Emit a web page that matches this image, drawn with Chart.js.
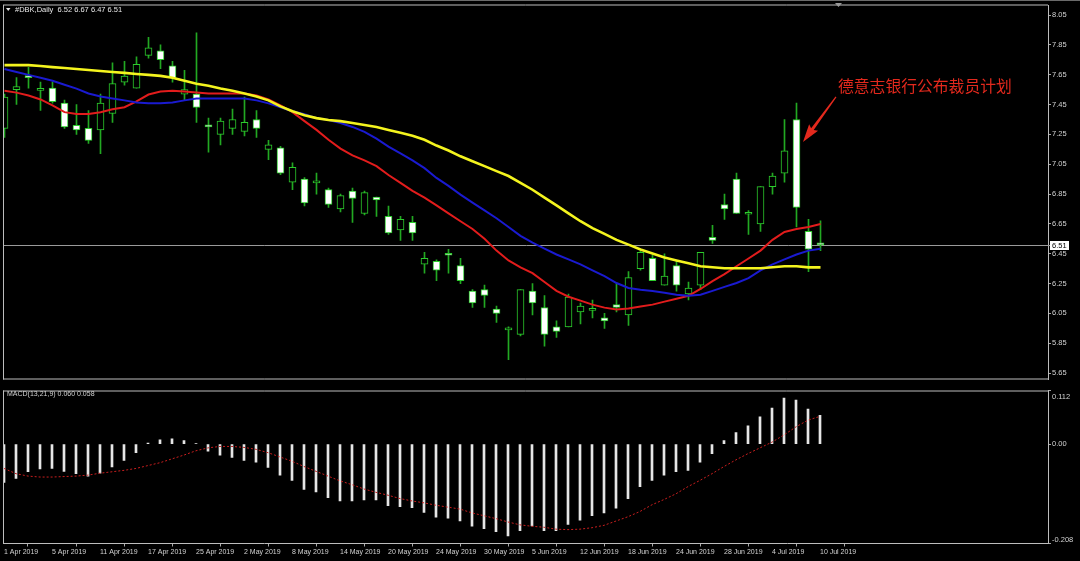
<!DOCTYPE html>
<html><head><meta charset="utf-8">
<script src="https://cdn.jsdelivr.net/npm/chart.js@4.4.1/dist/chart.umd.min.js"></script>
<style>
html,body{margin:0;padding:0;background:#000;width:1080px;height:561px;overflow:hidden}
#wrap{position:relative;width:1080px;height:561px;background:#000}
#main{position:absolute;left:0;top:0}
#macd{position:absolute;left:0;top:385px}
</style></head><body>
<div id="wrap">
<canvas id="main" width="1080" height="385"></canvas>
<canvas id="macd" width="1080" height="176"></canvas>
</div>
<script>
// ---------- data ----------
const symbol = '#DBK,Daily';
const dates = ['1 Apr 2019','2 Apr 2019','3 Apr 2019','4 Apr 2019','5 Apr 2019','8 Apr 2019','9 Apr 2019','10 Apr 2019','11 Apr 2019','12 Apr 2019','15 Apr 2019','16 Apr 2019','17 Apr 2019','18 Apr 2019','23 Apr 2019','24 Apr 2019','25 Apr 2019','26 Apr 2019','29 Apr 2019','30 Apr 2019',
'2 May 2019','3 May 2019','6 May 2019','7 May 2019','8 May 2019','9 May 2019','10 May 2019','13 May 2019','14 May 2019','15 May 2019','16 May 2019','17 May 2019','20 May 2019','21 May 2019','22 May 2019','23 May 2019','24 May 2019','27 May 2019','28 May 2019','29 May 2019','30 May 2019','31 May 2019',
'3 Jun 2019','4 Jun 2019','5 Jun 2019','6 Jun 2019','7 Jun 2019','11 Jun 2019','12 Jun 2019','13 Jun 2019','14 Jun 2019','17 Jun 2019','18 Jun 2019','19 Jun 2019','20 Jun 2019','21 Jun 2019','24 Jun 2019','25 Jun 2019','26 Jun 2019','27 Jun 2019','28 Jun 2019',
'1 Jul 2019','2 Jul 2019','3 Jul 2019','4 Jul 2019','5 Jul 2019','8 Jul 2019','9 Jul 2019','10 Jul 2019'];
const open  = [7.29,7.55,7.64,7.545,7.56,7.46,7.31,7.29,7.28,7.39,7.60,7.56,7.78,7.81,7.71,7.52,7.52,7.31,7.25,7.29,
7.27,7.35,7.15,7.16,6.93,6.95,6.925,6.88,6.75,6.87,6.72,6.83,6.70,6.61,6.66,6.38,6.40,6.445,6.37,6.20,6.21,6.08,
5.94,5.91,6.20,6.09,5.96,5.96,6.06,6.07,6.02,6.11,6.04,6.35,6.42,6.24,6.37,6.18,6.24,
6.56,6.78,6.95,6.715,6.65,6.90,6.99,7.35,6.60,6.52];
const high  = [7.52,7.63,7.70,7.60,7.60,7.48,7.45,7.41,7.52,7.73,7.74,7.77,7.90,7.85,7.74,7.68,7.93,7.36,7.36,7.42,
7.50,7.41,7.21,7.17,7.06,6.96,6.99,6.89,6.85,6.89,6.87,6.83,6.77,6.70,6.70,6.46,6.41,6.48,6.42,6.21,6.24,6.10,
5.96,6.21,6.25,6.17,6.00,6.18,6.12,6.14,6.05,6.25,6.33,6.47,6.44,6.45,6.40,6.26,6.46,
6.64,6.85,6.99,6.74,6.90,6.99,7.35,7.46,6.68,6.67];
const low   = [7.23,7.45,7.56,7.41,7.46,7.29,7.25,7.19,7.12,7.33,7.58,7.56,7.76,7.69,7.60,7.48,7.33,7.13,7.18,7.25,
7.24,7.23,7.08,6.98,6.88,6.77,6.85,6.76,6.73,6.66,6.71,6.70,6.58,6.54,6.54,6.32,6.27,6.32,6.25,6.09,6.09,5.99,
5.74,5.90,6.04,5.83,5.89,5.96,5.98,6.02,5.95,6.06,5.97,6.34,6.27,6.24,6.20,6.14,6.21,
6.52,6.68,6.72,6.58,6.60,6.85,6.93,6.63,6.33,6.47];
const close = [7.50,7.57,7.63,7.55,7.47,7.30,7.28,7.21,7.46,7.59,7.64,7.72,7.83,7.75,7.63,7.55,7.43,7.30,7.34,7.35,
7.33,7.29,7.18,6.99,7.03,6.79,6.935,6.78,6.84,6.82,6.86,6.81,6.59,6.68,6.59,6.42,6.34,6.44,6.27,6.12,6.17,6.05,
5.947,6.21,6.12,5.91,5.93,6.16,6.10,6.08,6.00,6.09,6.29,6.46,6.27,6.30,6.24,6.22,6.46,
6.54,6.75,6.72,6.72,6.90,6.97,7.14,6.76,6.48,6.51];
const maRed = [7.543,7.530,7.511,7.484,7.445,7.399,7.386,7.386,7.399,7.418,7.432,7.471,7.517,7.537,7.543,7.537,7.530,7.524,7.524,7.524,
7.524,7.511,7.484,7.445,7.399,7.339,7.280,7.214,7.155,7.109,7.076,7.037,6.978,6.925,6.872,6.826,6.774,6.721,6.668,6.616,6.550,6.471,
6.405,6.359,6.320,6.261,6.201,6.162,6.136,6.109,6.089,6.076,6.083,6.096,6.109,6.129,6.149,6.168,6.214,
6.267,6.313,6.366,6.418,6.471,6.543,6.596,6.616,6.629,6.649];
const maBlue = [7.688,7.668,7.649,7.629,7.609,7.583,7.557,7.524,7.504,7.491,7.478,7.464,7.458,7.458,7.464,7.478,7.491,7.491,7.491,7.491,
7.491,7.478,7.458,7.432,7.405,7.386,7.359,7.346,7.326,7.300,7.267,7.221,7.168,7.122,7.076,7.024,6.958,6.905,6.846,6.793,6.741,6.688,
6.629,6.570,6.524,6.484,6.445,6.412,6.379,6.339,6.300,6.254,6.221,6.208,6.201,6.188,6.175,6.168,6.175,
6.201,6.228,6.254,6.287,6.339,6.379,6.412,6.445,6.471,6.484];
const maYellow = [7.714,7.714,7.714,7.708,7.701,7.695,7.688,7.682,7.675,7.668,7.662,7.655,7.649,7.642,7.629,7.609,7.589,7.576,7.557,7.543,
7.524,7.504,7.478,7.438,7.405,7.379,7.359,7.346,7.339,7.326,7.313,7.300,7.280,7.261,7.241,7.214,7.175,7.142,7.103,7.070,7.037,7.004,
6.971,6.925,6.879,6.826,6.774,6.721,6.668,6.622,6.583,6.543,6.511,6.478,6.451,6.425,6.405,6.386,6.366,
6.359,6.353,6.353,6.353,6.353,6.359,6.366,6.366,6.359,6.359];
const macdHist = [-0.080,-0.072,-0.058,-0.052,-0.051,-0.057,-0.062,-0.067,-0.061,-0.048,-0.034,-0.018,0.002,0.009,0.011,0.007,0.001,-0.015,-0.023,-0.028,
-0.034,-0.038,-0.049,-0.065,-0.076,-0.095,-0.100,-0.112,-0.119,-0.119,-0.117,-0.117,-0.129,-0.131,-0.133,-0.143,-0.153,-0.155,-0.161,-0.172,-0.177,-0.183,
-0.192,-0.181,-0.171,-0.181,-0.181,-0.168,-0.159,-0.150,-0.144,-0.134,-0.114,-0.089,-0.076,-0.065,-0.058,-0.055,-0.038,
-0.020,0.007,0.024,0.038,0.057,0.075,0.096,0.092,0.073,0.060];
const macdSignal = [-0.051,-0.062,-0.067,-0.069,-0.069,-0.068,-0.067,-0.065,-0.061,-0.058,-0.055,-0.051,-0.045,-0.039,-0.031,-0.023,-0.014,-0.008,-0.005,-0.005,
-0.007,-0.011,-0.018,-0.027,-0.036,-0.047,-0.057,-0.067,-0.077,-0.085,-0.094,-0.101,-0.107,-0.114,-0.119,-0.123,-0.128,-0.132,-0.136,-0.144,-0.150,-0.156,
-0.163,-0.169,-0.172,-0.174,-0.178,-0.179,-0.178,-0.175,-0.170,-0.161,-0.152,-0.141,-0.127,-0.116,-0.104,-0.089,-0.076,
-0.062,-0.047,-0.033,-0.020,-0.008,0.004,0.019,0.036,0.050,0.058];
const priceTicks = [8.05,7.85,7.65,7.45,7.25,7.05,6.85,6.65,6.45,6.25,6.05,5.85,5.65];
const macdTicks = [0.112,0.00,-0.208];
const macdTickLabels = ['0.112','0.00','-0.208'];
const dateTickIdx = [0,4,8,12,16,20,24,28,32,36,40,44,48,52,56,60,64,68];
const lastPrice = 6.51;
const macdName = 'MACD(13,21,9)';
const noteText = '德意志银行公布裁员计划';

// ---------- styling / layout ----------
Chart.defaults.font.family = '"Liberation Sans", Arial, sans-serif';
Chart.defaults.color = '#cfcfcf';
const FRAME = '#bdbdbd';
const TXT = '#d2d2d2';
const N = dates.length;
const idx = Array.from({length:N},(_,i)=>i);
const SPAN = 1045/12;
const mainXMin = -1.5/12, macdXMin = -1/12;
const isBull = i => close[i] >= open[i];

const mainPlugin = {
  id:'mt4main',
  beforeDatasetsDraw(chart){
    const {ctx, chartArea:a, scales:{y}} = chart;
    const py = Math.round(y.getPixelForValue(lastPrice)) + 0.5;
    ctx.save(); ctx.strokeStyle='#9a9a9a'; ctx.lineWidth=1;
    ctx.beginPath(); ctx.moveTo(a.left, py); ctx.lineTo(a.right+2, py); ctx.stroke(); ctx.restore();
  },
  afterDraw(chart){
    const {ctx, chartArea:a, scales:{x,y}} = chart;
    ctx.save();
    ctx.strokeStyle = FRAME; ctx.lineWidth = 1;
    ctx.beginPath();
    ctx.moveTo(a.left+0.5, a.top-0.5); ctx.lineTo(a.left+0.5, a.bottom);
    ctx.moveTo(a.left, a.top-0.5); ctx.lineTo(a.right, a.top-0.5);
    ctx.moveTo(a.left, a.bottom-0.5); ctx.lineTo(a.right, a.bottom-0.5);
    ctx.stroke();
    ctx.strokeStyle='#6a6a6a';
    ctx.beginPath(); ctx.moveTo(0,0.5); ctx.lineTo(1080,0.5); ctx.stroke();
    // chart shift marker
    ctx.fillStyle = '#9a9a9a';
    ctx.beginPath(); ctx.moveTo(835,3); ctx.lineTo(842,3); ctx.lineTo(838.5,7); ctx.closePath(); ctx.fill();
    // title
    ctx.fillStyle = '#e8e8e8';
    ctx.beginPath(); ctx.moveTo(6,8); ctx.lineTo(10.5,8); ctx.lineTo(8.25,11); ctx.closePath(); ctx.fill();
    const L = N-1;
    ctx.font = '7.5px "Liberation Sans", Arial, sans-serif';
    ctx.textBaseline = 'middle'; ctx.textAlign='left';
    ctx.fillText(symbol + '  ' + [open[L],high[L],low[L],close[L]].map(v=>v.toFixed(2)).join(' '), 15, 9.5);
    // last price box
    const py = Math.round(y.getPixelForValue(lastPrice)) + 0.5;
    ctx.fillStyle = '#ffffff';
    ctx.fillRect(a.right+2, py-4.5, 19, 9);
    ctx.fillStyle = '#000';
    ctx.fillText(lastPrice.toFixed(2), a.right+4, py+0.5);
    // annotation arrow (anchored in data space)
    const T = {x:x.getPixelForValue(66.54), y:y.getPixelForValue(7.199)};
    const S = {x:x.getPixelForValue(69.29), y:y.getPixelForValue(7.502)};
    const dx=T.x-S.x, dy=T.y-S.y, len=Math.hypot(dx,dy);
    const u={x:dx/len,y:dy/len}, n={x:-u.y,y:u.x};
    const HL=16, B={x:T.x-HL*u.x, y:T.y-HL*u.y};
    const P=(p,k)=>[p.x+k*n.x, p.y+k*n.y];
    ctx.fillStyle='#e3291d';
    ctx.beginPath();
    ctx.moveTo(...P(S,0.6)); ctx.lineTo(...P(B,1.6)); ctx.lineTo(...P({x:B.x-2*u.x,y:B.y-2*u.y},5.5));
    ctx.lineTo(T.x,T.y);
    ctx.lineTo(...P({x:B.x-2*u.x,y:B.y-2*u.y},-5.5)); ctx.lineTo(...P(B,-1.6)); ctx.lineTo(...P(S,-0.6));
    ctx.closePath(); ctx.fill();
    // annotation text
    ctx.font = '15.8px "Noto Sans CJK SC", sans-serif';
    ctx.fillStyle = '#e3291d';
    ctx.fillText(noteText, x.getPixelForValue(69.46), y.getPixelForValue(7.574));
    ctx.restore();
  }
};

new Chart(document.getElementById('main'), {
  type:'bar',
  data:{datasets:[
    {type:'line', data: idx.map(i=>({x:i,y:maYellow[i]})), borderColor:'#f4f41e', borderWidth:2.6, pointRadius:0, tension:0, order:0},
    {type:'line', data: idx.map(i=>({x:i,y:maBlue[i]})), borderColor:'#1a1ad0', borderWidth:2, pointRadius:0, tension:0, order:0},
    {type:'line', data: idx.map(i=>({x:i,y:maRed[i]})), borderColor:'#e21c1c', borderWidth:2, pointRadius:0, tension:0, order:0},
    {type:'bar', data: idx.map(i=>({x:i,y:[open[i],close[i]]})),
      backgroundColor: idx.map(i=>isBull(i)?'#000000':'#ffffff'),
      borderColor:'#2ccc2c', borderWidth:1, borderSkipped:false, barThickness:7, grouped:false, minBarLength:2, order:1},
    {type:'bar', data: idx.map(i=>({x:i,y:[low[i],high[i]]})),
      backgroundColor:'#22a822', borderWidth:0, barThickness:1, grouped:false, order:2}
  ]},
  options:{
    responsive:false, animation:false, devicePixelRatio:1, events:[],
    layout:{padding:{left:3,top:3,right:0,bottom:1}},
    plugins:{legend:{display:false}, tooltip:{enabled:false}},
    scales:{
      x:{type:'linear', display:false, offset:false, min:mainXMin, max:mainXMin+SPAN},
      y:{type:'linear', position:'right', min:5.6072, max:8.1138,
        afterBuildTicks: s => { s.ticks = priceTicks.map(v=>({value:v})); },
        afterFit: s => { s.width = 32; },
        ticks:{color:TXT, font:{size:7.5}, padding:1, callback:v=>Number(v).toFixed(2)},
        grid:{drawOnChartArea:false, drawTicks:true, tickLength:3, color:'#a8a8a8'},
        border:{display:true, color:FRAME}
      }
    }
  },
  plugins:[mainPlugin]
});

const macdPlugin = {
  id:'mt4macd',
  afterDraw(chart){
    const {ctx, chartArea:a, scales:{y}} = chart;
    ctx.save();
    ctx.strokeStyle = FRAME; ctx.lineWidth = 1;
    ctx.beginPath();
    ctx.moveTo(a.left+0.5, a.top); ctx.lineTo(a.left+0.5, a.bottom);
    ctx.moveTo(a.left, a.top+0.5); ctx.lineTo(a.right, a.top+0.5);
    ctx.stroke();
    ctx.font = '7.5px "Liberation Sans", Arial, sans-serif';
    ctx.fillStyle = TXT; ctx.textAlign='left'; ctx.textBaseline='middle';
    macdTicks.forEach((v,k)=>{
      let py = y.getPixelForValue(v);
      py = Math.min(Math.max(py, a.top+6.5), a.bottom-4);
      ctx.fillText(macdTickLabels[k], a.right+4, py);
    });
    const L = N-1;
    ctx.font = '7px "Liberation Sans", Arial, sans-serif';
    ctx.fillText(macdName + ' ' + macdHist[L].toFixed(3) + ' ' + macdSignal[L].toFixed(3), 7, 9);
    ctx.restore();
  }
};

new Chart(document.getElementById('macd'), {
  type:'bar',
  data:{datasets:[
    {type:'line', data: idx.map(i=>({x:i,y:macdSignal[i]})), borderColor:'#c81e1e', borderWidth:1, borderDash:[2,2], pointRadius:0, tension:0, order:0},
    {type:'bar', data: idx.map(i=>({x:i,y:macdHist[i]})), backgroundColor:'#e6e6e6', barThickness:2, grouped:false, order:1}
  ]},
  options:{
    responsive:false, animation:false, devicePixelRatio:1, events:[],
    layout:{padding:{left:3,top:1,right:0,bottom:0}},
    plugins:{legend:{display:false}, tooltip:{enabled:false}},
    scales:{
      x:{type:'linear', position:'bottom', offset:false, min:macdXMin, max:macdXMin+SPAN,
        afterBuildTicks: s => { s.ticks = dateTickIdx.map(v=>({value:v})); },
        afterFit: s => { s.height = 17.5; },
        ticks:{color:TXT, font:{size:7}, padding:1, align:'start', autoSkip:false, maxRotation:0, minRotation:0,
          callback:v=>dates[v]},
        grid:{drawOnChartArea:false, drawTicks:true, tickLength:3, color:'#a8a8a8'},
        border:{display:true, color:FRAME}
      },
      y:{type:'linear', position:'right', min:-0.208, max:0.112,
        afterBuildTicks: s => { s.ticks = macdTicks.map(v=>({value:v})); },
        afterFit: s => { s.width = 32; },
        ticks:{color:'rgba(0,0,0,0)', font:{size:7.5}, padding:1},
        grid:{drawOnChartArea:false, drawTicks:true, tickLength:3, color:'#a8a8a8'},
        border:{display:true, color:FRAME}
      }
    }
  },
  plugins:[macdPlugin]
});
</script>
</body></html>
